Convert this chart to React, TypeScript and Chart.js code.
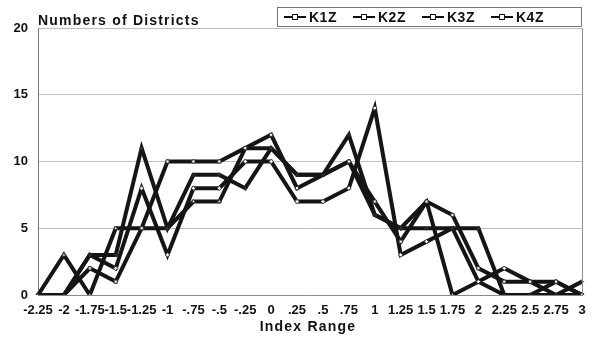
import React, { useEffect, useRef } from "react";
import { Chart, registerables } from "chart.js";

Chart.register(...registerables);

const categories = ["-2.25", "-2", "-1.75", "-1.5", "-1.25", "-1", "-.75", "-.5", "-.25", "0", ".25", ".5", ".75", "1", "1.25", "1.5", "1.75", "2", "2.25", "2.5", "2.75", "3"];
const k1z = [0, 0, 3, 3, 11, 5, 9, 9, 8, 11, 9, 9, 12, 6, 5, 5, 5, 5, 0, 0, 0, 1];
const k2z = [0, 0, 2, 1, 5, 10, 10, 10, 11, 12, 8, 9, 10, 7, 4, 7, 6, 2, 1, 1, 1, 0];
const k3z = [0, 0, 3, 2, 8, 3, 8, 8, 10, 10, 7, 7, 8, 14, 3, 4, 5, 1, 2, 1, 0, 0];
const k4z = [0, 3, 0, 5, 5, 5, 7, 7, 11, 11, 9, 9, 10, 6, 5, 7, 0, 1, 0, 0, 1, 0];
const seriesLabels = ["K1Z", "K2Z", "K3Z", "K4Z"];
const yTicks = [0, 5, 10, 15, 20];
const titleText = "Numbers of Districts";
const xTitle = "Index Range";

const FONT = "'Liberation Sans', Arial, sans-serif";
const pointStyles: any[] = ["cross", "rect", "rectRot", "triangle"];

const decorPlugin = {
  id: "decor",
  afterDraw(chart: any) {
    const ctx = chart.ctx;
    const area = chart.chartArea;
    ctx.save();
    // right border
    ctx.strokeStyle = "#8a8a8a";
    ctx.lineWidth = 1;
    ctx.beginPath();
    ctx.moveTo(Math.round(area.right) + 0.5, area.top);
    ctx.lineTo(Math.round(area.right) + 0.5, area.bottom);
    ctx.stroke();
    // title
    ctx.fillStyle = "#111";
    ctx.font = "bold 14px " + FONT;
    (ctx as any).letterSpacing = "1.2px";
    ctx.textBaseline = "alphabetic";
    ctx.textAlign = "left";
    ctx.fillText(titleText, 38, 25);
    // x axis title
    ctx.textAlign = "center";
    (ctx as any).letterSpacing = "1.2px";
    ctx.fillText(xTitle, (area.left + area.right) / 2 - 2, 331);
    // legend box
    ctx.textAlign = "left";
    ctx.strokeStyle = "#777";
    ctx.lineWidth = 1;
    ctx.strokeRect(277.5, 7.5, 304, 19);
    const startX = 284;
    const step = 69;
    chart.data.datasets.forEach((ds: any, i: number) => {
      const x = startX + i * step;
      const y = 17;
      ctx.strokeStyle = "#111";
      ctx.lineWidth = 2;
      ctx.beginPath();
      ctx.moveTo(x, y);
      ctx.lineTo(x + 22, y);
      ctx.stroke();
      ctx.fillStyle = "#fff";
      ctx.lineWidth = 1;
      ctx.fillRect(x + 8.5, y - 2.5, 5, 5);
      ctx.strokeRect(x + 8.5, y - 2.5, 5, 5);
      ctx.fillStyle = "#111";
      ctx.font = "bold 14px " + FONT;
      (ctx as any).letterSpacing = "0.5px";
      ctx.textBaseline = "middle";
      ctx.fillText(ds.label, x + 25, y + 1);
    });
    ctx.restore();
  },
};

export default function App() {
  const ref = useRef<HTMLCanvasElement | null>(null);
  useEffect(() => {
    document.body.style.margin = "0";
    if (!ref.current) return;
    const all = [k1z, k2z, k3z, k4z];
    const chart = new Chart(ref.current, {
      type: "line",
      data: {
        labels: categories,
        datasets: all.map((d, i) => ({
          label: seriesLabels[i],
          data: d,
          borderColor: "#151515",
          borderWidth: 4,
          backgroundColor: "#ffffff",
          pointBackgroundColor: "#ffffff",
          pointBorderColor: "#333",
          pointBorderWidth: 1,
          pointRadius: 2.2,
          pointStyle: pointStyles[i],
          tension: 0,
        })),
      },
      options: {
        animation: false,
        responsive: true,
        maintainAspectRatio: false,
        layout: { padding: { top: 28, left: 0, right: 18, bottom: 0 } },
        plugins: { legend: { display: false }, title: { display: false }, tooltip: { enabled: false } },
        scales: {
          x: {
            type: "category",
            offset: false,
            grid: { display: false, drawTicks: false },
            border: { display: true, color: "#8a8a8a" },
            ticks: {
              autoSkip: false,
              maxRotation: 0,
              minRotation: 0,
              padding: 8,
              color: "#111",
              font: { family: FONT, size: 13, weight: "bold" },
            },
            title: { display: false },
            afterFit(scale: any) {
              scale.height = 48;
            },
          },
          y: {
            min: 0,
            max: 20,
            afterBuildTicks(scale: any) {
              scale.ticks = yTicks.map((v) => ({ value: v }));
            },
            grid: { color: "#bdbdbd", drawTicks: false, lineWidth: 1 },
            border: { display: true, color: "#777" },
            ticks: {
              padding: 10,
              color: "#111",
              font: { family: FONT, size: 13, weight: "bold" },
            },
            afterFit(scale: any) {
              scale.width = 38;
            },
          },
        },
      },
      plugins: [decorPlugin],
    });
    return () => chart.destroy();
  }, []);
  return (
    <div style={{ position: "absolute", left: 0, top: 0, width: 600, height: 343, background: "#fff" }}>
      <canvas ref={ref} />
    </div>
  );
}
